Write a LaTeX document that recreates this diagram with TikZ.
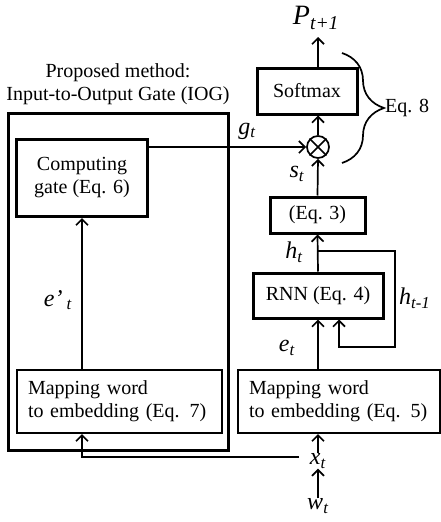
\documentclass[tikz,border=0pt]{standalone}
\usepackage{fontspec}
\setmainfont{Liberation Serif}
\usetikzlibrary{positioning}
\usetikzlibrary{arrows.meta}
\usetikzlibrary{calc, fit, decorations.pathreplacing}
\newcommand{\sym}[2]{\textit{#1}\textsubscript{\textit{#2}}}
\tikzset{%
	% Specifications for style of nodes:
	base/.style = {rectangle, draw=black, line width=3pt, inner sep=0pt,
		text centered, font=\fontsize{20pt}{23pt}\selectfont},
	block/.style = {base, align=center},
	mapping/.style = {base, line width=2pt, align=left, inner xsep=11pt,
		minimum height=63pt},
	symbol/.style = {inner sep=0pt, font=\fontsize{24pt}{26pt}\selectfont},
	wire/.style = {line width=1.7pt},
	flow/.style = {wire, -{Straight Barb[length=6pt, width=12pt]}}
}
\begin{document}
\begin{tikzpicture}[x=1pt, y=-1pt]
	\useasboundingbox (0,0) rectangle (441,522);
	% IOG side
	\node (iog) [base, minimum width=220pt, minimum height=337pt] at (118,281.5) {};
	\node (iogLabel) [align=center, font=\fontsize{20pt}{23pt}\selectfont] at (118,84) {Proposed method:\\Input-to-Output Gate (IOG)};
	\node (gate) [block, minimum width=131pt, minimum height=77pt] at (82,178) {Computing\\gate (Eq. 6)};
	\node (map7) [mapping, text width=183pt] at (119.5,401.5) {Mapping word\\to embedding (Eq. 7)};
	\node (ePrime) [symbol] at (58,300) {\textit{e’}\,\textsubscript{\textit{t}}};
	% RNN side
	\node (map5) [mapping, text width=180pt] at (339,401.5) {Mapping word\\to embedding (Eq. 5)};
	\node (rnn) [block, minimum width=130pt, minimum height=45pt] at (318,295.5) {RNN (Eq. 4)};
	\node (eqThree) [block, minimum width=95pt, minimum height=36pt] at (317.5,215) {(Eq. 3)};
	\node (otimes) [circle, draw=black, line width=1.7pt, minimum size=22pt, inner sep=0pt] at (318,147) {};
	\draw[wire] (otimes.north west) -- (otimes.south east);
	\draw[wire] (otimes.north east) -- (otimes.south west);
	\node (softmax) [block, minimum width=100pt, minimum height=46pt] at (307,91) {Softmax};
	\node (pOut) [symbol, font=\fontsize{28pt}{30pt}\selectfont] at (316,18) {\sym{P}{t+1}};
	\node (xt) [symbol] at (318,461) {\sym{x}{t}};
	\node (wt) [symbol] at (318,506) {\sym{w}{t}};
	\node (et) [symbol] at (287,348) {\sym{e}{t}};
	\node (ht) [symbol] at (294,252) {\sym{h}{t}};
	\node (hPrev) [symbol, anchor=west] at (399,298) {\sym{h}{t-1}};
	\node (st) [symbol] at (297,174) {\sym{s}{t}};
	\node (gt) [symbol] at (247,131) {\sym{g}{t}};
	\coordinate (pTop) at (318,37);
	\coordinate (hSplit) at (318,251);
	\coordinate (hLoop) at (395,347);
	\coordinate (xSplit) at (299,457);
	% connectors
	\draw[flow] (wt.north) -- (xt.south);
	\draw[flow] (xt.north) -- (xt |- map5.south);
	\draw[flow] (xSplit) -| (gate |- map7.south);
	\draw[flow] (gate |- map7.north) -- (gate.south);
	\draw[flow] (gate.east |- otimes) -- (otimes.west);
	\draw[flow] (rnn.south |- map5.north) -- (rnn.south);
	\draw[flow] (hSplit) -| (hLoop) -| ([xshift=21pt]rnn.south);
	\draw[flow] (rnn.north) -- (eqThree.south);
	\draw[flow] (eqThree.north) -- (otimes.south);
	\draw[flow] (otimes.north) -- (otimes |- softmax.south);
	\draw[flow] (otimes |- softmax.north) -- (pTop);
	\coordinate (braceTop) at (342,53);
	\coordinate (braceBot) at (342,163);
	\draw[wire, decorate, decoration={brace, amplitude=42pt}] (braceTop) -- (braceBot);
	\node (eqEight) [anchor=west, inner sep=0pt, font=\fontsize{20pt}{23pt}\selectfont] at (385,108) {Eq. 8};
\end{tikzpicture}
\end{document}
